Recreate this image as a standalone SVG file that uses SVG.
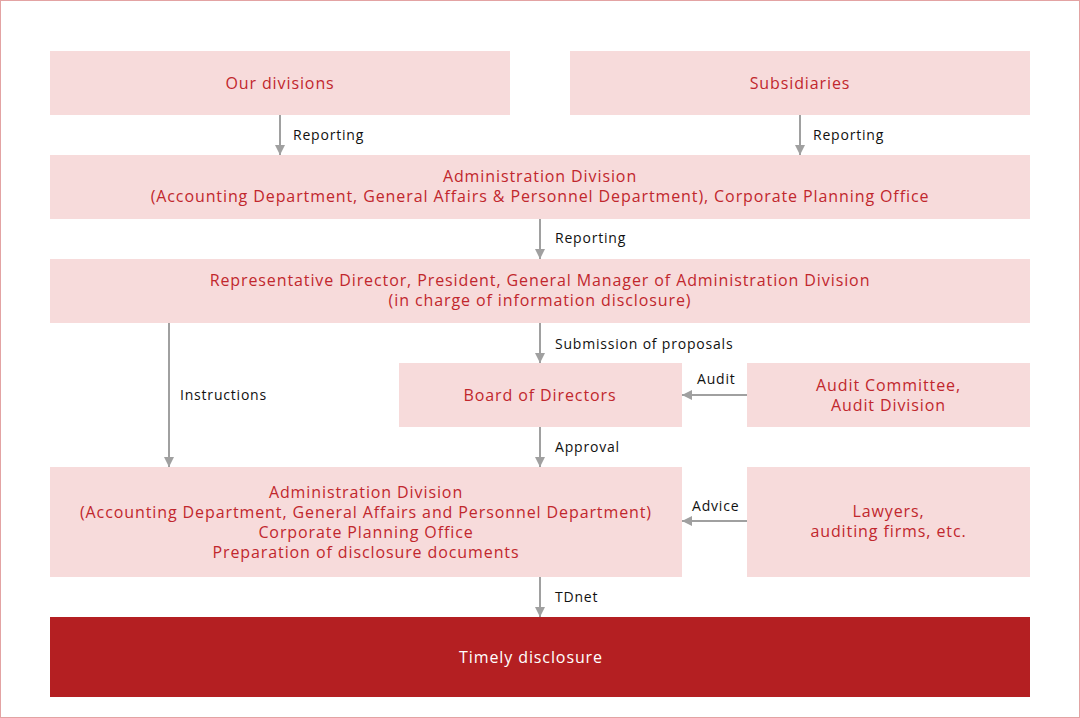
<svg xmlns="http://www.w3.org/2000/svg" width="1080" height="718" viewBox="0 0 1080 718">
<style>
.box{fill:#f7dbdb}
.dark{fill:#b41f22}
.t{font-family:"Open Sans","Noto Sans",sans-serif;font-size:16px;letter-spacing:0.9px;fill:#c1272d;text-anchor:middle}
.tw{font-family:"Open Sans","Noto Sans",sans-serif;font-size:16px;letter-spacing:0.9px;fill:#ffffff;text-anchor:middle}
.lbl{font-family:"Open Sans","Noto Sans",sans-serif;font-size:14px;letter-spacing:0.8px;fill:#111111}
.c{stroke:#a0a0a0;stroke-width:2;fill:none;marker-end:url(#ah)}
</style>
<defs>
<marker id="ah" markerWidth="10" markerHeight="10" refX="10" refY="5" orient="auto" markerUnits="userSpaceOnUse" viewBox="0 0 10 10">
<path d="M0,0 L10,5 L0,10 z" fill="#a0a0a0"/>
</marker>
</defs>
<rect x="0.5" y="0.5" width="1079" height="717" fill="#ffffff" stroke="#e3a3a3" stroke-width="1"/>
<g id="connectors">
<line class="c" x1="280" y1="115" x2="280" y2="155"/>
<line class="c" x1="800" y1="115" x2="800" y2="155"/>
<line class="c" x1="540" y1="219" x2="540" y2="259"/>
<line class="c" x1="540" y1="323" x2="540" y2="363"/>
<line class="c" x1="169" y1="323" x2="169" y2="467"/>
<line class="c" x1="747" y1="395" x2="682" y2="395"/>
<line class="c" x1="540" y1="427" x2="540" y2="467"/>
<line class="c" x1="747" y1="521" x2="682" y2="521"/>
<line class="c" x1="540" y1="577" x2="540" y2="617"/>
<text class="lbl" x="293" y="140">Reporting</text>
<text class="lbl" x="813" y="140">Reporting</text>
<text class="lbl" x="555" y="243">Reporting</text>
<text class="lbl" x="555" y="349">Submission of proposals</text>
<text class="lbl" x="180" y="400">Instructions</text>
<text class="lbl" x="697" y="384">Audit</text>
<text class="lbl" x="555" y="452">Approval</text>
<text class="lbl" x="692" y="511">Advice</text>
<text class="lbl" x="555" y="602">TDnet</text>
</g>
<g id="our-divisions">
<rect class="box" x="50" y="51" width="460" height="64"/>
<text class="t" x="280" y="89">Our divisions</text>
</g>
<g id="subsidiaries">
<rect class="box" x="570" y="51" width="460" height="64"/>
<text class="t" x="800" y="89">Subsidiaries</text>
</g>
<g id="admin-division">
<rect class="box" x="50" y="155" width="980" height="64"/>
<text class="t" x="540" y="182">Administration Division</text>
<text class="t" x="540" y="202">(Accounting Department, General Affairs &amp; Personnel Department), Corporate Planning Office</text>
</g>
<g id="representative-director">
<rect class="box" x="50" y="259" width="980" height="64"/>
<text class="t" x="540" y="286">Representative Director, President, General Manager of Administration Division</text>
<text class="t" x="540" y="306">(in charge of information disclosure)</text>
</g>
<g id="board">
<rect class="box" x="399" y="363" width="283" height="64"/>
<text class="t" x="540" y="401">Board of Directors</text>
</g>
<g id="audit-committee">
<rect class="box" x="747" y="363" width="283" height="64"/>
<text class="t" x="888.5" y="391">Audit Committee,</text>
<text class="t" x="888.5" y="411">Audit Division</text>
</g>
<g id="admin-division-2">
<rect class="box" x="50" y="467" width="632" height="110"/>
<text class="t" x="366" y="498">Administration Division</text>
<text class="t" x="366" y="518">(Accounting Department, General Affairs and Personnel Department)</text>
<text class="t" x="366" y="538">Corporate Planning Office</text>
<text class="t" x="366" y="558">Preparation of disclosure documents</text>
</g>
<g id="lawyers">
<rect class="box" x="747" y="467" width="283" height="110"/>
<text class="t" x="888.5" y="517">Lawyers,</text>
<text class="t" x="888.5" y="537">auditing firms, etc.</text>
</g>
<g id="timely-disclosure">
<rect class="dark" x="50" y="617" width="980" height="80"/>
<text class="tw" x="531" y="663">Timely disclosure</text>
</g>
</svg>
